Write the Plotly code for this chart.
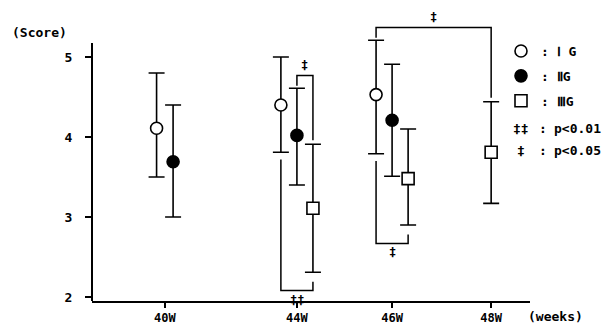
import plotly.graph_objects as go

# ---------------- data ----------------
weeks = ["40W", "44W", "46W", "48W"]
group_names = [": Ⅰ G", ": ⅡG", ": ⅢG"]

g1_mean = [4.11, 4.40, 4.53, None]
g1_hi = [4.80, 5.00, 5.21, None]
g1_lo = [3.50, 3.81, 3.79, None]

g2_mean = [3.69, 4.02, 4.21, None]
g2_hi = [4.40, 4.61, 4.91, None]
g2_lo = [3.00, 3.40, 3.51, None]

g3_mean = [None, 3.11, 3.48, 3.81]
g3_hi = [None, 3.91, 4.10, 4.44]
g3_lo = [None, 2.31, 2.90, 3.17]

y_ticks = [2, 3, 4, 5]

# significance comparisons: (week a, group a, week b, group b, side, label)
comparisons = [
    ("44W", 1, "44W", 2, "top", "‡"),
    ("44W", 0, "44W", 2, "bottom", "‡‡"),
    ("46W", 0, "48W", 2, "top", "‡"),
    ("46W", 0, "46W", 2, "bottom", "‡"),
]
p_notes = [("‡‡", "p<0.01"), ("‡", "p<0.05")]

# ---------------- layout helpers ----------------
week_pos = [0.02, 1.38, 2.36, 3.38]          # uneven spacing as in the original
means = [g1_mean, g2_mean, g3_mean]
his = [g1_hi, g2_hi, g3_hi]
los = [g1_lo, g2_lo, g3_lo]

# plot area in pixels
L, R, T, B = 92, 530, 8, 301
Y_BOTTOM = 1.95
PX_PER_UNIT = 80.0
Y_TOP = Y_BOTTOM + (B - T) / PX_PER_UNIT
AXIS_TOP = 5.175          # the drawn y axis line stops here


def offsets_for(n):
    return {1: [0.0], 2: [-0.085, 0.085], 3: [-0.165, 0.0, 0.165]}[n]


xpos = [[None] * len(weeks) for _ in range(3)]
for wi in range(len(weeks)):
    present = [g for g in range(3) if means[g][wi] is not None]
    for g, off in zip(present, offsets_for(len(present))):
        xpos[g][wi] = week_pos[wi] + off

FONT = "DejaVu Sans Mono"
marker_styles = [
    dict(symbol="circle", size=12, color="white", line=dict(color="black", width=1.6)),
    dict(symbol="circle", size=12, color="black", line=dict(color="black", width=1.6)),
    dict(symbol="square", size=12, color="white", line=dict(color="black", width=1.6)),
]

fig = go.Figure()
for g in range(3):
    xs, ys, up, dn = [], [], [], []
    for wi in range(len(weeks)):
        if means[g][wi] is None:
            continue
        xs.append(xpos[g][wi])
        ys.append(means[g][wi])
        up.append(his[g][wi] - means[g][wi])
        dn.append(means[g][wi] - los[g][wi])
    fig.add_trace(go.Scatter(
        x=xs, y=ys, mode="markers", name=group_names[g],
        legendgroup=str(g),
        marker=marker_styles[g],
        error_y=dict(type="data", symmetric=False, array=up, arrayminus=dn,
                     color="black", thickness=1.6, width=8),
    ))

shapes, annotations = [], []
# y axis line (stops at the top of the scale, brackets rise above it)
shapes.append(dict(type="line", xref="paper", yref="y", x0=0, x1=0,
                   y0=Y_BOTTOM, y1=AXIS_TOP, line=dict(color="black", width=2)))

# significance brackets, derived from the error-bar ends
for wa, ga, wb, gb, side, lab in comparisons:
    ia, ib = weeks.index(wa), weeks.index(wb)
    xa, xb = xpos[ga][ia], xpos[gb][ib]
    if side == "top":
        ya, yb = his[ga][ia], his[gb][ib]
        level = max(ya, yb) + 0.16
        ya0, yb0 = ya + 0.03, yb + 0.05
        yshift = 10
    else:
        ya, yb = los[ga][ia], los[gb][ib]
        level = min(ya, yb) - 0.23
        ya0, yb0 = ya - 0.09, yb - 0.12
        yshift = -9
    shapes.append(dict(type="path", xref="x", yref="y",
                       path=f"M {xa},{ya0} L {xa},{level} L {xb},{level} L {xb},{yb0}",
                       line=dict(color="black", width=1.5)))
    annotations.append(dict(x=(xa + xb) / 2, y=level, xref="x", yref="y",
                            text=lab, showarrow=False, yshift=yshift,
                            font=dict(family=FONT, size=12, color="black", weight="bold")))


def px(xp):
    return (xp - L) / (R - L)


def py(yp):
    return (B - yp) / (B - T)


text_font = dict(family=FONT, size=13, color="black", weight="bold")
for row, (sym, txt) in zip([128, 150], p_notes):
    annotations.append(dict(x=px(521), y=py(row), xref="paper", yref="paper", text=sym,
                            showarrow=False, xanchor="center", yanchor="middle", font=text_font))
    annotations.append(dict(x=px(543), y=py(row), xref="paper", yref="paper", text=":",
                            showarrow=False, xanchor="center", yanchor="middle", font=text_font))
    annotations.append(dict(x=px(552), y=py(row), xref="paper", yref="paper", text=txt,
                            showarrow=False, xanchor="left", yanchor="middle", font=text_font))

annotations.append(dict(x=px(10), y=py(32), xref="paper", yref="paper", text="(Score)",
                        showarrow=False, xanchor="left", yanchor="middle", font=text_font))
annotations.append(dict(x=px(526), y=py(316), xref="paper", yref="paper", text="(weeks)",
                        showarrow=False, xanchor="left", yanchor="middle", font=text_font))

fig.update_layout(
    width=616, height=325,
    margin=dict(l=L, r=616 - R, t=T, b=325 - B),
    paper_bgcolor="white", plot_bgcolor="white",
    showlegend=True,
    legend=dict(x=px(501), y=py(36), xanchor="left", yanchor="top",
                bgcolor="rgba(0,0,0,0)", tracegroupgap=5,
                font=dict(family=FONT, size=13, color="black", weight="bold")),
    shapes=shapes, annotations=annotations,
    xaxis=dict(range=[-0.73, 3.78], tickmode="array", tickvals=week_pos, ticktext=weeks,
               showgrid=False, zeroline=False, showline=True, linecolor="black", linewidth=2,
               ticks="outside", ticklen=5, tickwidth=1.5, tickcolor="black",
               ticklabelstandoff=0, automargin=False,
               tickfont=dict(family=FONT, size=12, color="black", weight="bold")),
    yaxis=dict(range=[Y_BOTTOM, Y_TOP], tickmode="array", tickvals=y_ticks,
               showgrid=False, zeroline=False, showline=False,
               ticks="outside", ticklen=6, tickwidth=2, tickcolor="black",
               ticklabelstandoff=10, automargin=False,
               tickfont=dict(family=FONT, size=13, color="black", weight="bold")),
)

fig.write_html("out.html", post_script="document.body.style.margin='0';",
               config={"displayModeBar": False})
